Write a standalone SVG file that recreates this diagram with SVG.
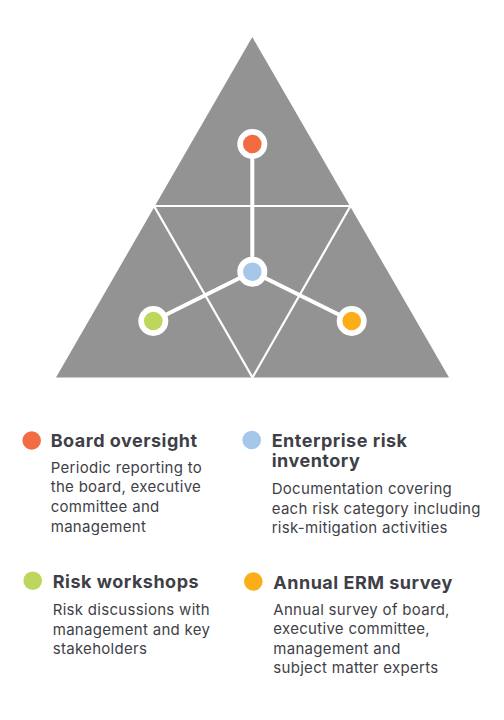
<svg xmlns="http://www.w3.org/2000/svg" width="504" height="720" viewBox="0 0 504 720">
<style>
.tri{fill:#939394}
.div{stroke:#ffffff;stroke-width:2.2;fill:none}
.conn{stroke:#ffffff;stroke-width:4;fill:none}
.ring{fill:#ffffff}
.title{font-family:Inter,"Liberation Sans",sans-serif;font-weight:700;font-size:18px;letter-spacing:0.5px;fill:#3f3f47}
.body{font-family:Inter,"Liberation Sans",sans-serif;font-weight:400;font-size:15px;letter-spacing:0.3px;fill:#3f3f47}
</style>
<rect width="504" height="720" fill="#ffffff"/>
<g id="triangle">
<polygon class="tri" points="252.3,37 56,377.5 449,377.5"/>
<line class="div" x1="154" y1="206" x2="350.5" y2="206"/>
<line class="div" x1="154" y1="206" x2="252.5" y2="377.5"/>
<line class="div" x1="350.5" y1="206" x2="252.5" y2="377.5"/>
</g>
<g id="connectors">
<line class="conn" x1="252.3" y1="144" x2="252.3" y2="271.7"/>
<line class="conn" x1="252.3" y1="271.7" x2="153.3" y2="321"/>
<line class="conn" x1="252.3" y1="271.7" x2="351.7" y2="321"/>
</g>
<g id="node-board">
<circle class="ring" cx="252.3" cy="144" r="15"/>
<circle cx="252.3" cy="144" r="9.3" fill="#F26B43"/>
</g>
<g id="node-inventory">
<circle class="ring" cx="252.3" cy="271.7" r="15"/>
<circle cx="252.3" cy="271.7" r="9.3" fill="#A5C8EA"/>
</g>
<g id="node-workshops">
<circle class="ring" cx="153.3" cy="321" r="15"/>
<circle cx="153.3" cy="321" r="9.3" fill="#BDD65B"/>
</g>
<g id="node-survey">
<circle class="ring" cx="351.7" cy="321" r="15"/>
<circle cx="351.7" cy="321" r="9.3" fill="#FBAE17"/>
</g>
<g id="legend-board">
<circle cx="31.7" cy="440.5" r="9.3" fill="#F26B43"/>
<text class="title" x="50.7" y="447">Board oversight</text>
<text class="body" x="50.7" y="472.7">Periodic reporting to</text>
<text class="body" x="50.7" y="492.3">the board, executive</text>
<text class="body" x="50.7" y="512">committee and</text>
<text class="body" x="50.7" y="531.7">management</text>
</g>
<g id="legend-inventory">
<circle cx="251.7" cy="440" r="9.3" fill="#A5C8EA"/>
<text class="title" x="271.7" y="446.7">Enterprise risk</text>
<text class="title" x="271.7" y="467">inventory</text>
<text class="body" x="271.7" y="494">Documentation covering</text>
<text class="body" x="271.7" y="513.5">each risk category including</text>
<text class="body" x="271.7" y="533">risk-mitigation activities</text>
</g>
<g id="legend-workshops">
<circle cx="32.7" cy="580.7" r="9.3" fill="#BDD65B"/>
<text class="title" x="52.7" y="588.3">Risk workshops</text>
<text class="body" x="52.7" y="615">Risk discussions with</text>
<text class="body" x="52.7" y="634.5">management and key</text>
<text class="body" x="52.7" y="654">stakeholders</text>
</g>
<g id="legend-survey">
<circle cx="253.3" cy="581.5" r="9.3" fill="#FBAE17"/>
<text class="title" x="273.3" y="589">Annual ERM survey</text>
<text class="body" x="273.3" y="615">Annual survey of board,</text>
<text class="body" x="273.3" y="634.3">executive committee,</text>
<text class="body" x="273.3" y="653.6">management and</text>
<text class="body" x="273.3" y="673">subject matter experts</text>
</g>
</svg>
